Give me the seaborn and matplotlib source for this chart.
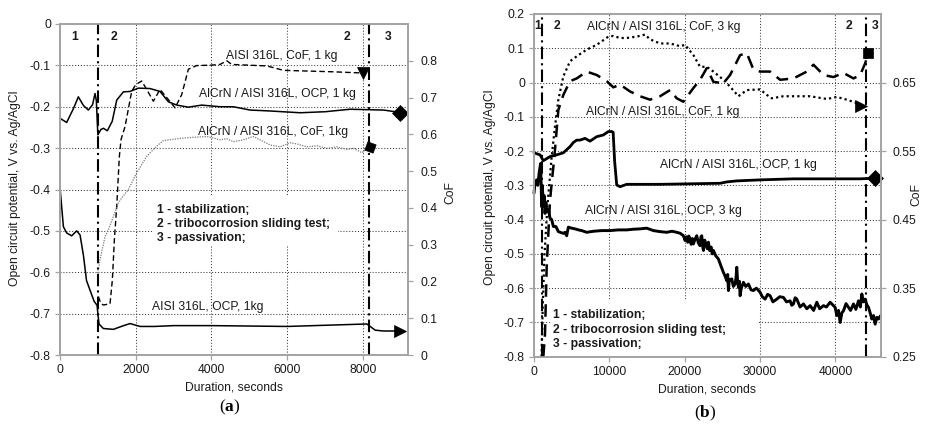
import matplotlib
matplotlib.use("Agg")
import matplotlib.pyplot as plt
import seaborn as sns
from matplotlib.patches import Rectangle
from matplotlib.ticker import FixedLocator, FuncFormatter

# ---------------- data : panel (a) ----------------
L_ocp_alcrn_x = [0, 176, 352, 485, 620, 749, 860, 925, 960, 1000, 1080, 1145, 1250, 1380, 1498, 1674, 1850,
                 2069, 2378, 2642, 2863, 3083, 3391, 3744, 4227, 4581, 5022, 5500, 6344, 7005, 7665, 8546, 8855, 8983]
L_ocp_alcrn_y = [-0.228, -0.238, -0.205, -0.176, -0.197, -0.208, -0.195, -0.168, -0.185, -0.268, -0.255, -0.252,
                 -0.258, -0.235, -0.184, -0.164, -0.163, -0.155, -0.156, -0.163, -0.188, -0.196, -0.201, -0.196,
                 -0.2, -0.2, -0.208, -0.21, -0.2145, -0.212, -0.206, -0.208, -0.212, -0.216]

L_ocp_316_x = [0, 90, 176, 308, 440, 530, 620, 700, 800, 900, 980, 1000, 1030, 1145, 1410, 1650, 1850, 2115,
               2500, 3000, 4000, 6000, 8106, 8326, 8546, 8983]
L_ocp_316_y = [-0.395, -0.49, -0.505, -0.512, -0.5, -0.51, -0.56, -0.62, -0.645, -0.67, -0.68, -0.70, -0.725,
               -0.736, -0.738, -0.73, -0.724, -0.731, -0.731, -0.729, -0.729, -0.731, -0.725, -0.74, -0.742, -0.742]

L_cof_316_x = [1013, 1080, 1145, 1321, 1383, 1436, 1498, 1568, 1612, 1718, 1894, 2000, 2158, 2290, 2466, 2642,
               2819, 3039, 3215, 3391, 3612, 3963, 4227, 4405, 4537, 5463, 5903, 7225, 7930, 7997]
L_cof_316_y = [0.159, 0.14, 0.136, 0.139, 0.204, 0.313, 0.404, 0.54, 0.586, 0.621, 0.717, 0.735, 0.745, 0.722,
               0.69, 0.722, 0.7, 0.672, 0.708, 0.777, 0.787, 0.788, 0.79, 0.8, 0.79, 0.786, 0.774, 0.77, 0.767, 0.768]

L_cof_alcrn_x = [996, 1057, 1189, 1277, 1541, 1630, 1806, 2026, 2290, 2555, 2731, 3172, 3524, 3877, 4050, 4229,
                 4405, 4581, 4846, 5110, 5286, 5551, 5815, 6079, 6256, 6520, 6784, 7049, 7313, 7577, 7753, 7974, 8190]
L_cof_alcrn_y = [0.223, 0.259, 0.322, 0.34, 0.413, 0.427, 0.45, 0.495, 0.54, 0.568, 0.583, 0.589, 0.592, 0.594,
                 0.59, 0.585, 0.588, 0.58, 0.585, 0.594, 0.585, 0.571, 0.566, 0.577, 0.574, 0.566, 0.569, 0.562,
                 0.566, 0.559, 0.562, 0.55, 0.566]

L_phase_x = [1000, 8170]
L_phase_labels = ["1", "2", "2", "3"]

# ---------------- data : panel (b) ----------------
R_ocp1_x = [0, 797, 1240, 2125, 3015, 3890, 4780, 5221, 5670, 6106, 6770, 7434, 8319, 9204, 9867, 10310, 10500,
            10700, 10973, 11416, 12301, 16726, 24690, 25575, 26903, 30000, 34425, 43274, 45290]
R_ocp1_y = [-0.205, -0.211, -0.228, -0.216, -0.211, -0.205, -0.187, -0.175, -0.168, -0.168, -0.163, -0.171,
            -0.158, -0.153, -0.143, -0.143, -0.145, -0.23, -0.299, -0.304, -0.297, -0.297, -0.294, -0.29, -0.287,
            -0.284, -0.281, -0.281, -0.279]

R_ocp3_x = [0, 150, 354, 500, 700, 885, 1018, 1100, 1240, 1350,
            1461, 1580, 1682, 1900, 2125, 2350, 2567, 2900, 3231, 3600,
            3895, 4115, 4336, 4557, 5000, 5442, 5900, 6327, 6991, 7876,
            9000, 10088, 11200, 12301, 13200, 14071, 14956, 15841, 16700, 17611,
            18300, 18938, 19400, 19823, 20044, 20250, 20400, 20550, 20708, 20850,
            21000, 21150, 21350, 21593, 21800, 22035, 22150, 22257, 22400, 22478,
            22650, 22800, 23000, 23142, 23300, 23500, 23650, 23805, 24100, 24469,
            24800, 25133, 25350, 25575, 25700, 25796, 25900, 26000, 26239, 26450,
            26681, 26800, 26903, 27000, 27124, 27250, 27345, 27500, 27788, 28100,
            28451, 28800, 29115, 29500, 30000, 30300, 30664, 31000, 31327, 31700,
            32212, 32600, 33097, 33500, 33982, 34200, 34425, 34650, 34867, 35300,
            35752, 36200, 36637, 37100, 37522, 37900, 38407, 38800, 39292, 39600,
            39956, 40177, 40400, 40619, 40850, 41062, 41400, 41726, 42000, 42389,
            42700, 43053, 43300, 43496, 43700, 43938, 44150, 44381, 44600, 44823,
            45050, 45265, 45500, 45708, 46000]
R_ocp3_y = [-0.323, -0.29, -0.284, -0.3, -0.26, -0.236, -0.362, -0.30, -0.36, -0.33,
            -0.382, -0.35, -0.375, -0.37, -0.396, -0.40, -0.42, -0.42, -0.435, -0.438,
            -0.44, -0.437, -0.447, -0.422, -0.425, -0.427, -0.43, -0.432, -0.437, -0.434,
            -0.432, -0.432, -0.43, -0.43, -0.428, -0.427, -0.425, -0.432, -0.435, -0.437,
            -0.434, -0.437, -0.44, -0.447, -0.461, -0.45, -0.466, -0.448, -0.46, -0.472,
            -0.455, -0.471, -0.458, -0.447, -0.468, -0.476, -0.45, -0.447, -0.48, -0.49,
            -0.46, -0.47, -0.485, -0.466, -0.49, -0.48, -0.5, -0.49, -0.505, -0.515,
            -0.535, -0.554, -0.565, -0.578, -0.56, -0.607, -0.58, -0.575, -0.573, -0.595,
            -0.588, -0.57, -0.539, -0.575, -0.598, -0.58, -0.622, -0.6, -0.583, -0.595,
            -0.588, -0.605, -0.607, -0.6, -0.612, -0.625, -0.632, -0.618, -0.622, -0.64,
            -0.632, -0.625, -0.627, -0.64, -0.637, -0.65, -0.646, -0.628, -0.632, -0.655,
            -0.646, -0.66, -0.651, -0.665, -0.641, -0.66, -0.651, -0.655, -0.641, -0.648,
            -0.656, -0.68, -0.665, -0.70, -0.672, -0.666, -0.645, -0.656, -0.665, -0.646,
            -0.662, -0.637, -0.655, -0.617, -0.64, -0.632, -0.648, -0.656, -0.672, -0.69,
            -0.68, -0.705, -0.685, -0.69, -0.68]

R_cof_dot_x = [1000, 1150, 1400, 1770, 2345, 2788, 3230, 3894, 4779, 5885, 6991, 8319, 9867, 10531, 11416, 12301,
               13628, 14735, 15398, 16726, 18053, 19381, 20044, 21150, 22035, 22920, 23805, 25133, 26018, 27124,
               28230, 30000, 30885, 31549, 33097, 36637, 38850, 40177, 41504, 42832, 43380]
R_cof_dot_y = [0.25, 0.32, 0.40, 0.469, 0.542, 0.586, 0.625, 0.659, 0.681, 0.69, 0.698, 0.705, 0.717, 0.718,
               0.715, 0.715, 0.717, 0.72, 0.713, 0.707, 0.707, 0.703, 0.705, 0.69, 0.673, 0.673, 0.666, 0.654,
               0.644, 0.63, 0.639, 0.64, 0.632, 0.627, 0.63, 0.63, 0.626, 0.629, 0.625, 0.62, 0.616]

R_cof_dash_x = [1239, 1460, 1681, 1903, 2124, 2788, 3230, 3894, 4779, 5664, 6991, 8319, 9646, 10531, 11416, 12743,
                14071, 15398, 16726, 18053, 18938, 19823, 21150, 22035, 22920, 23805, 25133, 26018, 27345, 28230,
                29115, 30000, 31327, 32655, 34425, 36195, 37080, 38407, 39734, 41062, 42389, 43274, 43938, 44355]
R_cof_dash_y = [0.25, 0.283, 0.38, 0.429, 0.478, 0.552, 0.61, 0.632, 0.652, 0.656, 0.666, 0.661, 0.652, 0.643,
                0.647, 0.637, 0.63, 0.625, 0.63, 0.639, 0.627, 0.622, 0.642, 0.654, 0.671, 0.651, 0.649, 0.661,
                0.69, 0.693, 0.669, 0.666, 0.666, 0.654, 0.656, 0.666, 0.676, 0.661, 0.658, 0.664, 0.656, 0.661,
                0.678, 0.693]

R_phase_x = [1000, 44050]

L_xticks = [0, 2000, 4000, 6000, 8000]
L_yticks = [-0.8, -0.7, -0.6, -0.5, -0.4, -0.3, -0.2, -0.1, 0.0]
L_y2ticks = [0.0, 0.1, 0.2, 0.3, 0.4, 0.5, 0.6, 0.7, 0.8]
R_xticks = [0, 10000, 20000, 30000, 40000]
R_yticks = [-0.8, -0.7, -0.6, -0.5, -0.4, -0.3, -0.2, -0.1, 0.0, 0.1, 0.2]
R_y2ticks = [0.25, 0.35, 0.45, 0.55, 0.65]

legend_lines = ["1 - stabilization;", "2 - tribocorrosion sliding test;", "3 - passivation;"]

assert len(R_ocp3_x) == len(R_ocp3_y)

# ---------------- style ----------------
sns.set_style("white")
plt.rcParams['font.family'] = ['Liberation Sans', 'DejaVu Sans']
plt.rcParams['axes.unicode_minus'] = False
plt.rcParams['mathtext.fontset'] = 'custom'
plt.rcParams['mathtext.rm'] = 'Liberation Serif'
plt.rcParams['mathtext.bf'] = 'Liberation Serif:bold'

W, H = 925, 428
fig = plt.figure(figsize=(W / 100, H / 100), dpi=100)

FS = 8.7
SPINE = '#a3a3a3'
GRID = dict(color='#3c3c3c', linestyle=(0, (1, 1.8)), linewidth=0.75)


def rect(l, t, r, b):
    return [l / W, 1 - b / H, (r - l) / W, (b - t) / H]


def ftxt(x, y, s, **kw):
    kw.setdefault('ha', 'center')
    kw.setdefault('va', 'center')
    kw.setdefault('fontsize', FS)
    kw.setdefault('color', '#1a1a1a')
    return fig.text(x / W, 1 - y / H, s, **kw)


def fmt(v, _):
    s = f"{v:.2f}".rstrip('0').rstrip('.')
    return '0' if s in ('0', '-0', '') else s


def setup(ax, xlim, xt, ylim, yt, y2lim, y2t):
    ax.set_xlim(*xlim)
    ax.set_ylim(*ylim)
    ax.xaxis.set_major_locator(FixedLocator(xt))
    ax.yaxis.set_major_locator(FixedLocator(yt))
    ax.yaxis.set_major_formatter(FuncFormatter(fmt))
    ax.xaxis.set_major_formatter(FuncFormatter(lambda v, _: f"{v:.0f}"))
    ax.grid(True, **GRID)
    ax.set_axisbelow(True)
    tw = ax.twinx()
    tw.set_ylim(*y2lim)
    tw.yaxis.set_major_locator(FixedLocator(y2t))
    tw.yaxis.set_major_formatter(FuncFormatter(fmt))
    tw.grid(False)
    for a in (ax, tw):
        for sp in a.spines.values():
            sp.set_visible(True)
            sp.set_color(SPINE)
            sp.set_linewidth(1.2)
    ax.tick_params(axis='both', direction='out', length=3.5, width=0.9, color=SPINE,
                   labelsize=FS, labelcolor='#1a1a1a', pad=3, left=True, bottom=True)
    tw.tick_params(axis='y', direction='out', length=3.5, width=0.9, color=SPINE,
                   labelsize=FS, labelcolor='#1a1a1a', pad=5, right=True)
    return tw


def draw(ax, x, y, color='black', lw=1.0, ls='-', marker=None, ms=8):
    sns.lineplot(x=x, y=y, ax=ax, sort=False, estimator=None, color=color,
                 linewidth=lw, linestyle=ls, legend=False)
    ln = ax.lines[-1]
    if marker is not None:
        ln.set_marker(marker)
        ln.set_markevery([len(x) - 1])
        ln.set_markersize(ms)
        ln.set_markerfacecolor('black')
        ln.set_markeredgecolor('black')
        ln.set_markeredgewidth(0.5)
    ln.set_clip_on(False)
    return ln


def phase_lines(ax, xs):
    for xv in xs:
        ax.axvline(xv, color='black', linewidth=1.5, linestyle=(0, (6, 2, 1, 2)), zorder=3)


# ---------------- panel (a) ----------------
axL = fig.add_axes(rect(60, 24, 408.3, 355))
twL = setup(axL, (0, 9200), L_xticks, (-0.8, 0), L_yticks, (0, 0.9), L_y2ticks)
axL.add_patch(Rectangle((153 / W, 1 - 246 / H), 185 / W, 50 / H, transform=fig.transFigure,
                        facecolor='white', edgecolor='none', zorder=1))
draw(axL, L_ocp_alcrn_x, L_ocp_alcrn_y, lw=1.1, marker='D', ms=8)
draw(axL, L_ocp_316_x, L_ocp_316_y, lw=1.1, marker='>', ms=9)
draw(twL, L_cof_316_x, L_cof_316_y, lw=1.0, ls=(0, (4, 2.2)), marker='v', ms=9)
draw(twL, L_cof_alcrn_x, L_cof_alcrn_y, color='#7a7a7a', lw=0.9, ls=(0, (1, 1)), marker=(4, 0, 25), ms=9)
phase_lines(axL, L_phase_x)
for a in (axL, twL):
    a.set_xlabel('')
    a.set_ylabel('')

# ---------------- panel (b) ----------------
axR = fig.add_axes(rect(534, 14, 880.7, 356.7))
twR = setup(axR, (0, 46000), R_xticks, (-0.8, 0.2), R_yticks, (0.25, 0.75), R_y2ticks)
axR.add_patch(Rectangle((551 / W, 1 - 355.5 / H), 208 / W, 55 / H, transform=fig.transFigure,
                        facecolor='white', edgecolor='none', zorder=1))
draw(axR, R_ocp1_x, R_ocp1_y, lw=2.0, marker='D', ms=8)
draw(axR, R_ocp3_x, R_ocp3_y, lw=2.1)
draw(twR, R_cof_dot_x, R_cof_dot_y, lw=1.6, ls=(0, (1, 1.4)), marker='>', ms=9)
draw(twR, R_cof_dash_x, R_cof_dash_y, lw=1.8, ls=(0, (5, 3)), marker='s', ms=7.5)
phase_lines(axR, R_phase_x)
for a in (axR, twR):
    a.set_xlabel('')
    a.set_ylabel('')

# ---------------- texts ----------------
for (px, lab) in zip([75, 114.3, 346.7, 387.7], L_phase_labels):
    ftxt(px, 36.7, lab, fontweight='bold')
for (px, lab) in zip([537.3, 556.7, 849.3, 875], L_phase_labels):
    ftxt(px, 26, lab, fontweight='bold')

ftxt(282, 56, "AISI 316L, CoF, 1 kg")
ftxt(277, 94, "AlCrN / AISI 316L, OCP, 1 kg")
ftxt(273, 132, "AlCrN / AISI 316L, CoF, 1kg")
ftxt(208, 307, "AISI 316L, OCP, 1kg")

ftxt(664, 27, "AlCrN / AISI 316L, CoF, 3 kg")
ftxt(663, 112, "AlCrN / AISI 316L, CoF, 1 kg")
ftxt(738, 165, "AlCrN / AISI 316L, OCP, 1 kg")
ftxt(663, 211, "AlCrN / AISI 316L, OCP, 3 kg")

for i, s in enumerate(legend_lines):
    ftxt(157, 210 + 14 * i, s, ha='left', fontweight='bold')
    ftxt(553, 315 + 14.5 * i, s, ha='left', fontweight='bold')

ftxt(15, 188, "Open circuit potential, V vs. Ag/AgCl", rotation=90)
ftxt(490, 187, "Open circuit potential, V vs. Ag/AgCl", rotation=90)
ftxt(450, 193, "CoF", rotation=90)
ftxt(916, 195, "CoF", rotation=90)
ftxt(234, 387, "Duration, seconds")
ftxt(707, 389, "Duration, seconds")

ftxt(230, 407, r"$\mathrm{(}\mathbf{a}\mathrm{)}$", fontsize=12.5, color='black')
ftxt(705, 413, r"$\mathrm{(}\mathbf{b}\mathrm{)}$", fontsize=12.5, color='black')

fig.savefig("out.png", dpi=100, facecolor='white')
